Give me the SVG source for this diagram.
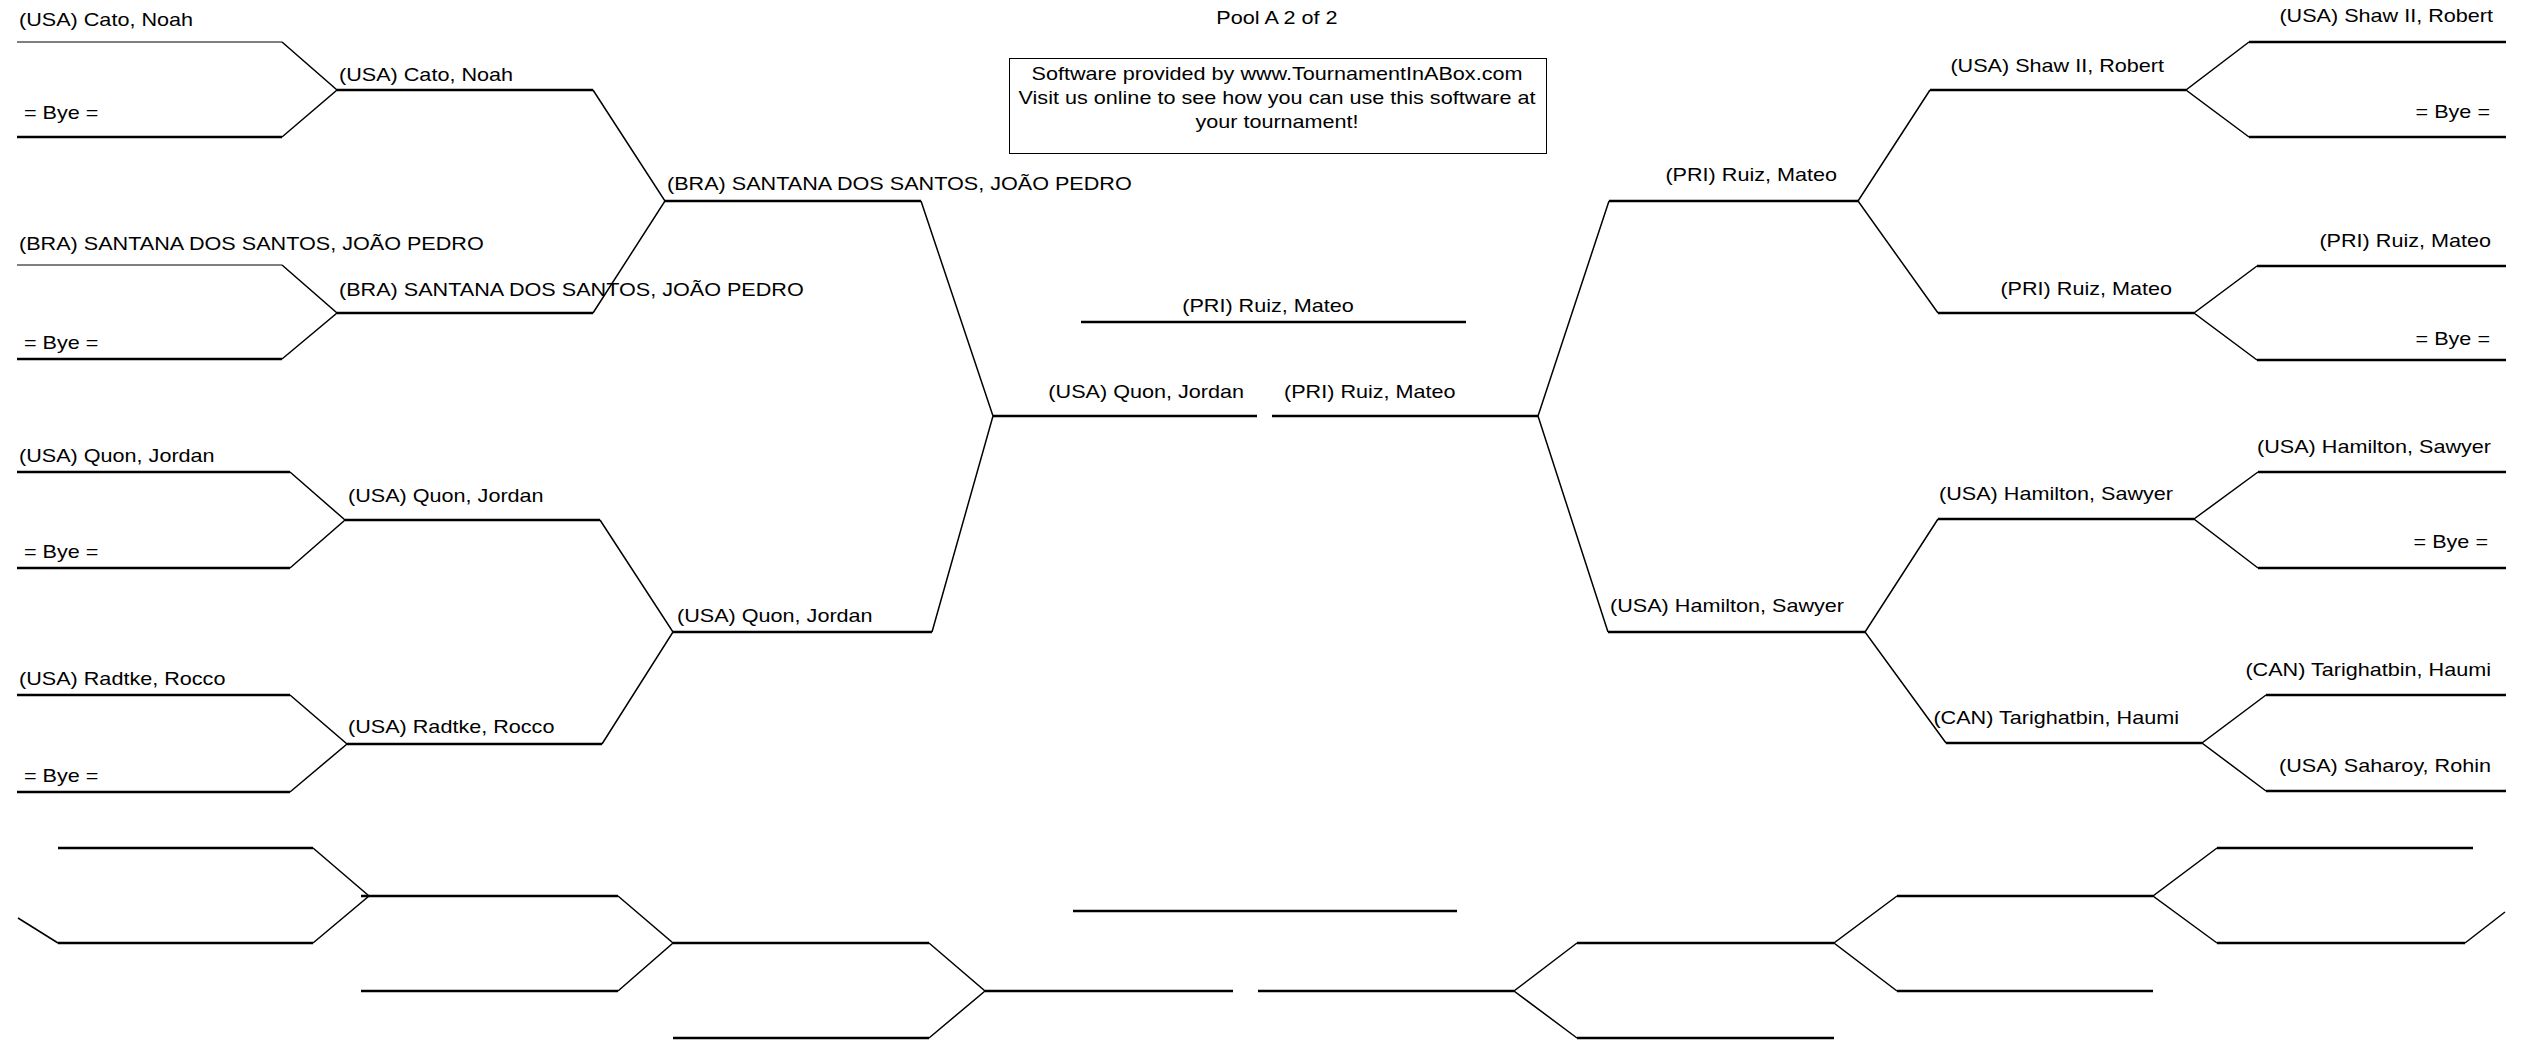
<svg xmlns="http://www.w3.org/2000/svg" width="2529" height="1046" viewBox="0 0 2529 1046">
<style>
text{font-family:"Liberation Sans",Arial,sans-serif;font-size:18px;fill:#000}
.e{text-anchor:end}.m{text-anchor:middle}
.h{stroke:#000;stroke-width:2.4;fill:none}
.t{stroke:#000;stroke-width:1.2;fill:none}
.d{stroke:#000;stroke-width:1.5;fill:none}
</style>
<rect width="2529" height="1046" fill="#fff"/>
<g id="header">
<text class="m" transform="translate(1277,24) scale(1.2,1)">Pool A 2 of 2</text>
<rect x="1009.5" y="58.5" width="537" height="95" fill="none" stroke="#000" stroke-width="1"/>
<text class="m" transform="translate(1277,80) scale(1.2,1)">Software provided by www.TournamentInABox.com</text>
<text class="m" transform="translate(1277,104) scale(1.2,1)">Visit us online to see how you can use this software at</text>
<text class="m" transform="translate(1277,128) scale(1.2,1)">your tournament!</text>
</g>
<g id="connectors">
<path class="d" d="M282,42 L337,90 L282,137"/>
<path class="d" d="M282,265 L337,313 L282,359"/>
<path class="d" d="M290,472 L345,520 L290,568"/>
<path class="d" d="M290,695 L347,744 L290,792"/>
<path class="d" d="M593,90 L665,201 L593,313"/>
<path class="d" d="M600,520 L673,632 L602,744"/>
<path class="d" d="M921,201 L993,416 L932,632"/>
<path class="d" d="M1609,201 L1538,416 L1608,632"/>
<path class="d" d="M1930,90 L1858,201 L1938,313"/>
<path class="d" d="M1938,519 L1865,632 L1946,743"/>
<path class="d" d="M2249,42 L2186,90 L2249,137"/>
<path class="d" d="M2257,266 L2194,313 L2257,360"/>
<path class="d" d="M2258,472 L2194,519 L2258,568"/>
<path class="d" d="M2266,695 L2202,743 L2266,791"/>
<path class="d" d="M18,918 L58,943"/>
<path class="d" d="M313,848 L369,896 L313,943"/>
<path class="d" d="M618,896 L673,943 L618,991"/>
<path class="d" d="M929,943 L985,991 L929,1038"/>
<path class="d" d="M1577,943 L1514,991 L1577,1038"/>
<path class="d" d="M1897,896 L1834,943 L1897,991"/>
<path class="d" d="M2217,848 L2153,896 L2217,943"/>
<path class="d" d="M2465,943 L2505,912"/>
</g>
<g id="left-r1-1"><path class="t" d="M17,42H282"/><text transform="translate(19,26) scale(1.2,1)">(USA) Cato, Noah</text></g>
<g id="left-r1-2"><path class="h" d="M17,137H282"/><text transform="translate(24,119) scale(1.2,1)">= Bye =</text></g>
<g id="left-r1-3"><path class="t" d="M17,265H282"/><text transform="translate(19,250) scale(1.2,1)">(BRA) SANTANA DOS SANTOS, JOÃO PEDRO</text></g>
<g id="left-r1-4"><path class="h" d="M17,359H282"/><text transform="translate(24,349) scale(1.2,1)">= Bye =</text></g>
<g id="left-r1-5"><path class="h" d="M17,472H290"/><text transform="translate(19,462) scale(1.2,1)">(USA) Quon, Jordan</text></g>
<g id="left-r1-6"><path class="h" d="M17,568H290"/><text transform="translate(24,558) scale(1.2,1)">= Bye =</text></g>
<g id="left-r1-7"><path class="h" d="M17,695H290"/><text transform="translate(19,685) scale(1.2,1)">(USA) Radtke, Rocco</text></g>
<g id="left-r1-8"><path class="h" d="M17,792H290"/><text transform="translate(24,782) scale(1.2,1)">= Bye =</text></g>
<g id="left-r2-1"><path class="h" d="M337,90H593"/><text transform="translate(339,81) scale(1.2,1)">(USA) Cato, Noah</text></g>
<g id="left-r2-2"><path class="h" d="M337,313H593"/><text transform="translate(339,296) scale(1.2,1)">(BRA) SANTANA DOS SANTOS, JOÃO PEDRO</text></g>
<g id="left-r2-3"><path class="h" d="M345,520H600"/><text transform="translate(348,502) scale(1.2,1)">(USA) Quon, Jordan</text></g>
<g id="left-r2-4"><path class="h" d="M347,744H602"/><text transform="translate(348,733) scale(1.2,1)">(USA) Radtke, Rocco</text></g>
<g id="left-r3-1"><path class="h" d="M665,201H921"/><text transform="translate(667,190) scale(1.2,1)">(BRA) SANTANA DOS SANTOS, JOÃO PEDRO</text></g>
<g id="left-r3-2"><path class="h" d="M673,632H932"/><text transform="translate(677,622) scale(1.2,1)">(USA) Quon, Jordan</text></g>
<g id="final-left"><path class="h" d="M993,416H1257"/><text class="e" transform="translate(1244,398) scale(1.2,1)">(USA) Quon, Jordan</text></g>
<g id="final-right"><path class="h" d="M1272,416H1538"/><text transform="translate(1284,398) scale(1.2,1)">(PRI) Ruiz, Mateo</text></g>
<g id="champion"><path class="h" d="M1081,322H1466"/><text class="m" transform="translate(1268,312) scale(1.2,1)">(PRI) Ruiz, Mateo</text></g>
<g id="right-r3-1"><path class="h" d="M1609,201H1858"/><text class="e" transform="translate(1837,181) scale(1.2,1)">(PRI) Ruiz, Mateo</text></g>
<g id="right-r3-2"><path class="h" d="M1608,632H1865"/><text class="e" transform="translate(1844,612) scale(1.2,1)">(USA) Hamilton, Sawyer</text></g>
<g id="right-r2-1"><path class="h" d="M1930,90H2186"/><text class="e" transform="translate(2164,72) scale(1.2,1)">(USA) Shaw II, Robert</text></g>
<g id="right-r2-2"><path class="h" d="M1938,313H2194"/><text class="e" transform="translate(2172,295) scale(1.2,1)">(PRI) Ruiz, Mateo</text></g>
<g id="right-r2-3"><path class="h" d="M1938,519H2194"/><text class="e" transform="translate(2173,500) scale(1.2,1)">(USA) Hamilton, Sawyer</text></g>
<g id="right-r2-4"><path class="h" d="M1946,743H2202"/><text class="e" transform="translate(2179,724) scale(1.2,1)">(CAN) Tarighatbin, Haumi</text></g>
<g id="right-r1-1"><path class="h" d="M2249,42H2506"/><text class="e" transform="translate(2493,22) scale(1.2,1)">(USA) Shaw II, Robert</text></g>
<g id="right-r1-2"><path class="h" d="M2249,137H2506"/><text class="e" transform="translate(2490,118) scale(1.2,1)">= Bye =</text></g>
<g id="right-r1-3"><path class="h" d="M2257,266H2506"/><text class="e" transform="translate(2491,247) scale(1.2,1)">(PRI) Ruiz, Mateo</text></g>
<g id="right-r1-4"><path class="h" d="M2257,360H2506"/><text class="e" transform="translate(2490,345) scale(1.2,1)">= Bye =</text></g>
<g id="right-r1-5"><path class="h" d="M2258,472H2506"/><text class="e" transform="translate(2491,453) scale(1.2,1)">(USA) Hamilton, Sawyer</text></g>
<g id="right-r1-6"><path class="h" d="M2258,568H2506"/><text class="e" transform="translate(2488,548) scale(1.2,1)">= Bye =</text></g>
<g id="right-r1-7"><path class="h" d="M2266,695H2506"/><text class="e" transform="translate(2491,676) scale(1.2,1)">(CAN) Tarighatbin, Haumi</text></g>
<g id="right-r1-8"><path class="h" d="M2266,791H2506"/><text class="e" transform="translate(2491,772) scale(1.2,1)">(USA) Saharoy, Rohin</text></g>
<g id="blank-bracket">
<g id="b-l1"><path class="h" d="M58,848H313"/></g>
<g id="b-l2"><path class="h" d="M58,943H313"/></g>
<g id="b-l3"><path class="h" d="M361,896H618"/></g>
<g id="b-l4"><path class="h" d="M361,991H618"/></g>
<g id="b-l5"><path class="h" d="M673,943H929"/></g>
<g id="b-l6"><path class="h" d="M673,1038H929"/></g>
<g id="b-final-left"><path class="h" d="M985,991H1233"/></g>
<g id="b-champion"><path class="h" d="M1073,911H1457"/></g>
<g id="b-final-right"><path class="h" d="M1258,991H1514"/></g>
<g id="b-r1"><path class="h" d="M1577,943H1834"/></g>
<g id="b-r2"><path class="h" d="M1577,1038H1834"/></g>
<g id="b-r3"><path class="h" d="M1897,896H2153"/></g>
<g id="b-r4"><path class="h" d="M1897,991H2153"/></g>
<g id="b-r5"><path class="h" d="M2217,848H2473"/></g>
<g id="b-r6"><path class="h" d="M2217,943H2465"/></g>
</g>
</svg>
